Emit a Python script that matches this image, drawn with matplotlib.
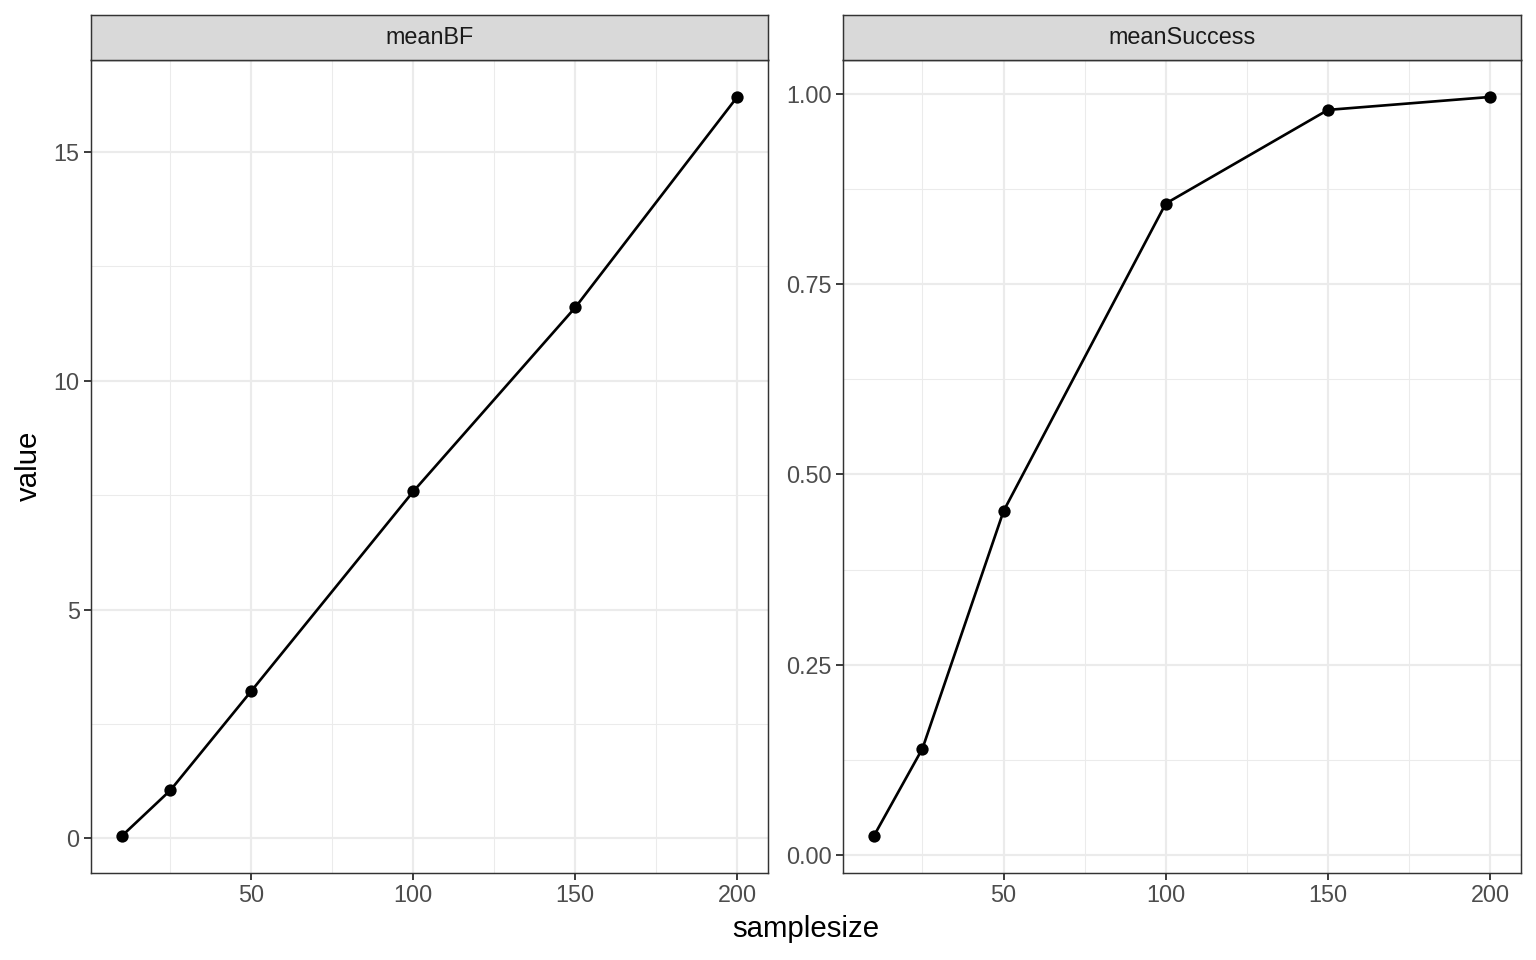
import numpy as np
import matplotlib
matplotlib.use("Agg")
from matplotlib import pyplot as plt

plt.rcParams['font.family'] = ['Liberation Sans', 'DejaVu Sans']

# dane
samplesize = [10, 25, 50, 100, 150, 200]
meanBF = [0.05, 1.05, 3.22, 7.58, 11.6, 16.2]
meanSuccess = [0.025, 0.14, 0.452, 0.856, 0.979, 0.996]
panels = ["meanBF", "meanSuccess"]

fig = plt.figure(figsize=(16, 10), dpi=96)

boxes = [(91, 768), (843, 1521)]
top_px, bottom_px, strip_top = 60, 873, 15
W, H = 1536, 960

def setup(ax, yvals, ymajor, yminor, ylabels):
    ax.plot(samplesize, yvals, color="black", lw=2.0, zorder=3)
    ax.scatter(samplesize, yvals, s=85, color="black", zorder=4, linewidths=0)
    rng = max(samplesize) - min(samplesize)
    ax.set_xlim(min(samplesize) - 0.05 * rng, max(samplesize) + 0.05 * rng)
    yr = max(yvals) - min(yvals)
    ax.set_ylim(min(yvals) - 0.05 * yr, max(yvals) + 0.05 * yr)
    ax.set_xticks([50, 100, 150, 200])
    ax.set_xticks([25, 75, 125, 175], minor=True)
    ax.set_yticks(ymajor)
    ax.set_yticklabels(ylabels)
    ax.set_yticks(yminor, minor=True)
    ax.grid(which="major", color="#ebebeb", lw=1.6, zorder=0)
    ax.grid(which="minor", color="#ebebeb", lw=0.8, zorder=0)
    ax.set_axisbelow(True)
    ax.tick_params(which="major", colors="#333333", labelcolor="#4d4d4d", labelsize=17.5,
                   length=5.5, width=1.4, pad=3)
    ax.tick_params(which="minor", length=0)
    for s in ax.spines.values():
        s.set_color("#333333")
        s.set_linewidth(1.1)

data = [meanBF, meanSuccess]
ticks = [([0, 5, 10, 15], [2.5, 7.5, 12.5], ["0", "5", "10", "15"]),
         ([0, 0.25, 0.5, 0.75, 1.0], [0.125, 0.375, 0.625, 0.875],
          ["0.00", "0.25", "0.50", "0.75", "1.00"])]

for i, (l, r) in enumerate(boxes):
    ax = fig.add_axes([l / W, 1 - bottom_px / H, (r - l) / W, (bottom_px - top_px) / H])
    setup(ax, data[i], *ticks[i])
    # pasek z nazwa panelu
    sx = fig.add_axes([l / W, 1 - top_px / H, (r - l) / W, (top_px - strip_top) / H])
    sx.set_xticks([])
    sx.set_yticks([])
    sx.set_facecolor("#d9d9d9")
    for s in sx.spines.values():
        s.set_color("#333333")
        s.set_linewidth(1.1)
    sx.text(0.5, 0.5, panels[i], ha="center", va="center", fontsize=17.5, color="#1a1a1a",
            transform=sx.transAxes)

fig.text((91 + 1521) / 2 / W, 1 - 929 / H, "samplesize", ha="center", va="center", fontsize=22)
fig.text(29 / W, 1 - 466 / H, "value", ha="center", va="center", rotation=90, fontsize=22)

plt.savefig("out.png", dpi=96)
plt.close()
